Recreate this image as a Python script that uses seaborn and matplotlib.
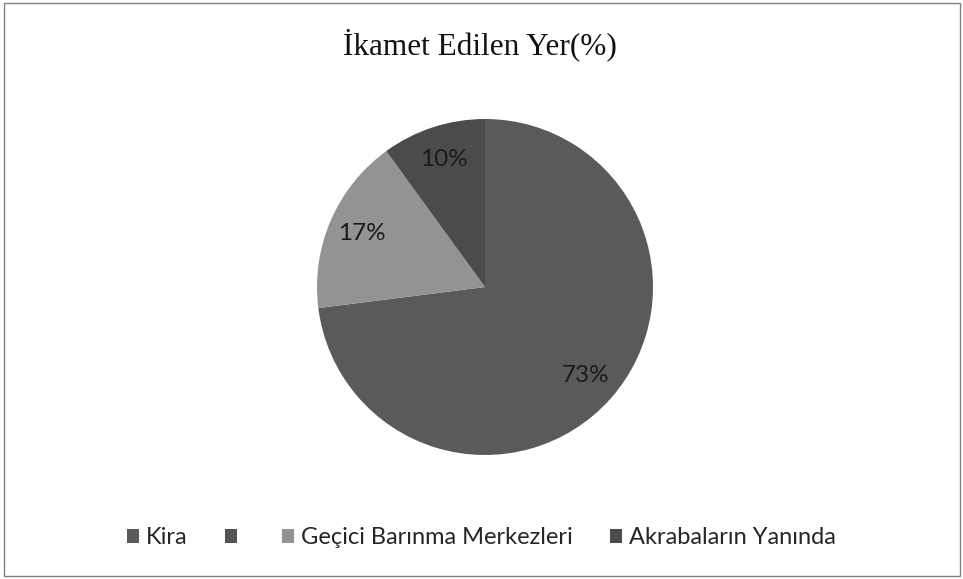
import matplotlib
matplotlib.use("Agg")
import matplotlib.pyplot as plt
import seaborn as sns
from matplotlib.patches import Rectangle

# veriler
categories = ["Kira", "", "Geçici Barınma Merkezleri", "Akrabaların Yanında"]
values = [73, 0, 17, 10]
colors = ["#5a5a5a", "#535353", "#939393", "#4b4b4b"]
title = "İkamet Edilen Yer(%)"

sns.set_theme(style="white")
plt.rcParams['font.family'] = ['Lato', 'DejaVu Sans']

fig = plt.figure(figsize=(9.63, 5.79), dpi=100)

# pasta grafiği
cx, cy, r = 485, 287, 168
ax = fig.add_axes([(cx - r) / 963, (579 - cy - r) / 579, 2 * r / 963, 2 * r / 579])

def fmt(p):
    return f"{p:.0f}%" if p > 0.5 else ""

wedges, texts, autotexts = ax.pie(
    values,
    colors=colors,
    startangle=90,
    counterclock=False,
    autopct=fmt,
    pctdistance=0.8,
    wedgeprops=dict(linewidth=0),
    textprops=dict(fontsize=17.5, color="#1a1a1a"),
)
ax.set_xlim(-1, 1)
ax.set_ylim(-1, 1)
ax.set_aspect("equal")
ax.axis("off")

fig.text(0.4985, 1 - 45 / 579, title, ha="center", va="center",
         fontsize=22.5, family=["Liberation Serif", "DejaVu Serif"], color="#111111")

leg = fig.legend(wedges, categories, loc="center", bbox_to_anchor=(0.5, 1 - 538 / 579),
                 ncol=4, frameon=False, fontsize=17, handlelength=0.5, handleheight=0.5,
                 handletextpad=0.3, columnspacing=1.6)

# çerçeve
fig.patches.append(Rectangle((4 / 963, 3 / 579), 956 / 963, 573 / 579, transform=fig.transFigure,
                             fill=False, edgecolor="#808080", linewidth=1.0))

fig.savefig("out.png", dpi=100)
